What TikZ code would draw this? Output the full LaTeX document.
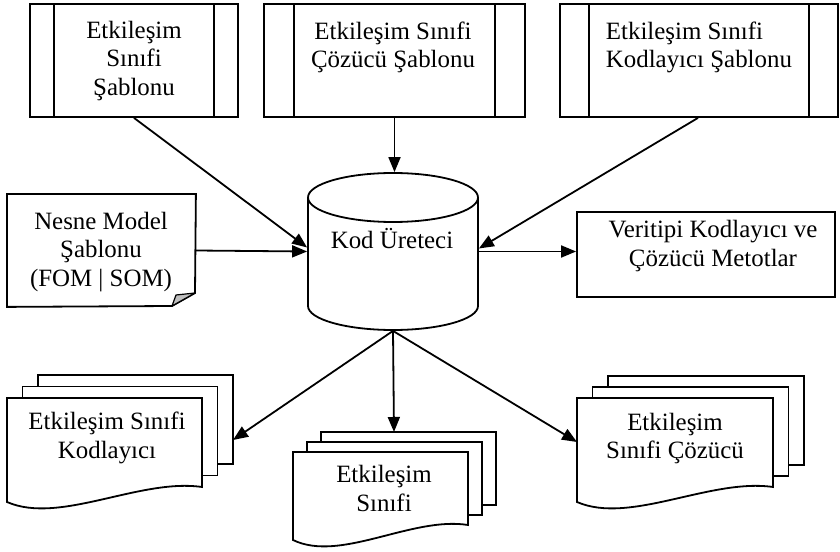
\documentclass[tikz,border=0pt]{standalone}
\usepackage{fontspec}
\setmainfont{Liberation Serif}
\usetikzlibrary{arrows.meta,calc}

% Stacked document shape: name, front left x, front top y, width,
% height at the left end, sheet offset x, sheet offset y
\newcommand{\stackdoc}[7]{%
  \pgfmathsetmacro\sdR{#2+#4}%
  \pgfmathsetmacro\sdB{#3-#5}%
  \pgfmathsetmacro\sdE{#3-#5+15}%
  \draw[sheet] (#2+2*#6,#3+2*#7) rectangle (\sdR+2*#6,\sdE+2*#7);
  \draw[sheet] (#2+#6,#3+#7) rectangle (\sdR+#6,\sdE+#7);
  \draw[sheet] (#2,#3) -- (\sdR,#3) -- (\sdR,\sdE)
    .. controls (#2+0.68*#4,\sdB+24) and (#2+0.27*#4,\sdB-23) .. (#2,\sdB) -- cycle;
  \node[minimum width=#4bp, minimum height=#5bp, anchor=north west] (#1) at (#2,#3) {};
}

\begin{document}
\begin{tikzpicture}[x=1bp,y=1bp,
  line width=1.8bp,
  every node/.style={font=\fontsize{25}{28.5}\selectfont, inner sep=0pt},
  lbl/.style={align=center, anchor=north},
  procbox/.style={draw, fill=white},
  sheet/.style={draw, fill=white},
  conn/.style={-{Triangle[length=15bp,width=12bp]}},
  fold/.style={draw, fill=gray!50, line width=1.2bp, line join=round}
]
\useasboundingbox (0,0) rectangle (840,-552);

% ---- template boxes (predefined process) ----
\node[procbox, minimum width=208bp, minimum height=113bp] (tmplA) at (134,-60.5) {};
\draw ([xshift=25bp]tmplA.north west) -- ([xshift=25bp]tmplA.south west);
\draw ([xshift=-25bp]tmplA.north east) -- ([xshift=-25bp]tmplA.south east);
\node[lbl] (tmplAtxt) at (134,-20.3) {Etkileşim\\Sınıfi\\Şablonu};

\node[procbox, minimum width=261bp, minimum height=113bp] (tmplB) at (394.5,-60.5) {};
\draw ([xshift=31bp]tmplB.north west) -- ([xshift=31bp]tmplB.south west);
\draw ([xshift=-31bp]tmplB.north east) -- ([xshift=-31bp]tmplB.south east);
\node[lbl] (tmplBtxt) at (393,-20.7) {Etkileşim Sınıfi\\Çözücü Şablonu};

\node[procbox, minimum width=278bp, minimum height=113bp] (tmplC) at (699,-60.5) {};
\draw ([xshift=30bp]tmplC.north west) -- ([xshift=30bp]tmplC.south west);
\draw ([xshift=-30bp]tmplC.north east) -- ([xshift=-30bp]tmplC.south east);
\node[align=left, anchor=north west] (tmplCtxt) at (605,-20.7) {Etkileşim Sınıfi\\Kodlayıcı Şablonu};

% ---- object model template (note with folded corner) ----
\node[minimum width=187bp, minimum height=111bp] (fom) at (101.5,-250.5) {};
\draw[sheet] (fom.north west) -- (fom.north east) -- (195,-293) -- (172,-306) -- (fom.south west) -- cycle;
\draw[fold] (195,-293) -- (176,-295) -- (172,-306) -- cycle;
\node[lbl] (fomtxt) at (101,-211.3) {Nesne Model\\Şablonu\\(FOM | SOM)};

% ---- code generator (cylinder) ----
\node[minimum width=170bp, minimum height=157bp] (gen) at (393,-251.5) {};
\draw[fill=white] (308,-197.5) -- (308,-306) arc[start angle=180, end angle=360, x radius=85, y radius=24] -- (478,-197.5);
\draw (393,-197.5) ellipse [x radius=85, y radius=24.5];
\node[anchor=base] (gentxt) at (392,-248.3) {Kod Üreteci};

% ---- data type codec methods ----
\node[draw, minimum width=258bp, minimum height=85bp] (codec) at (706,-254.5) {};
\node[lbl] (codectxt) at (713,-219.7) {Veritipi Kodlayıcı ve\\Çözücü Metotlar};

% ---- generated documents ----
\stackdoc{docA}{7}{-398}{195}{104}{15.5}{11.5}
\node[lbl] (docAtxt) at (107,-411.3) {Etkileşim Sınıfi\\Kodlayıcı};
\coordinate (docAin) at (233,-440);

\stackdoc{docB}{293}{-452}{175}{88}{14}{10}
\node[lbl] (docBtxt) at (384,-464.7) {Etkileşim\\Sınıfi};
\coordinate (docBin) at (394,-432);

\stackdoc{docC}{577}{-398}{196}{104}{15.5}{11}
\node[lbl] (docCtxt) at (675,-412) {Etkileşim\\Sınıfi Çözücü};
\coordinate (docCin) at (docC.west |- 0,-442);

% ---- connectors ----
\draw[conn] (tmplA.south) -- ($(gen.west)+(0,4)$);
\draw[conn] (fom.east) -- (gen.west);
\draw[conn] (tmplB.south) -- (tmplB.south |- gen.north);
\draw[conn] ($(tmplC.south)+(-1,0)$) -- ($(gen.east)+(0,3)$);
\draw[conn] (gen.east) -- (gen.east -| codec.west);
\draw[conn] (gen.south) -- (docAin);
\draw[conn] (gen.south) -- (docBin);
\draw[conn] (gen.south) -- (docCin);
\end{tikzpicture}
\end{document}
